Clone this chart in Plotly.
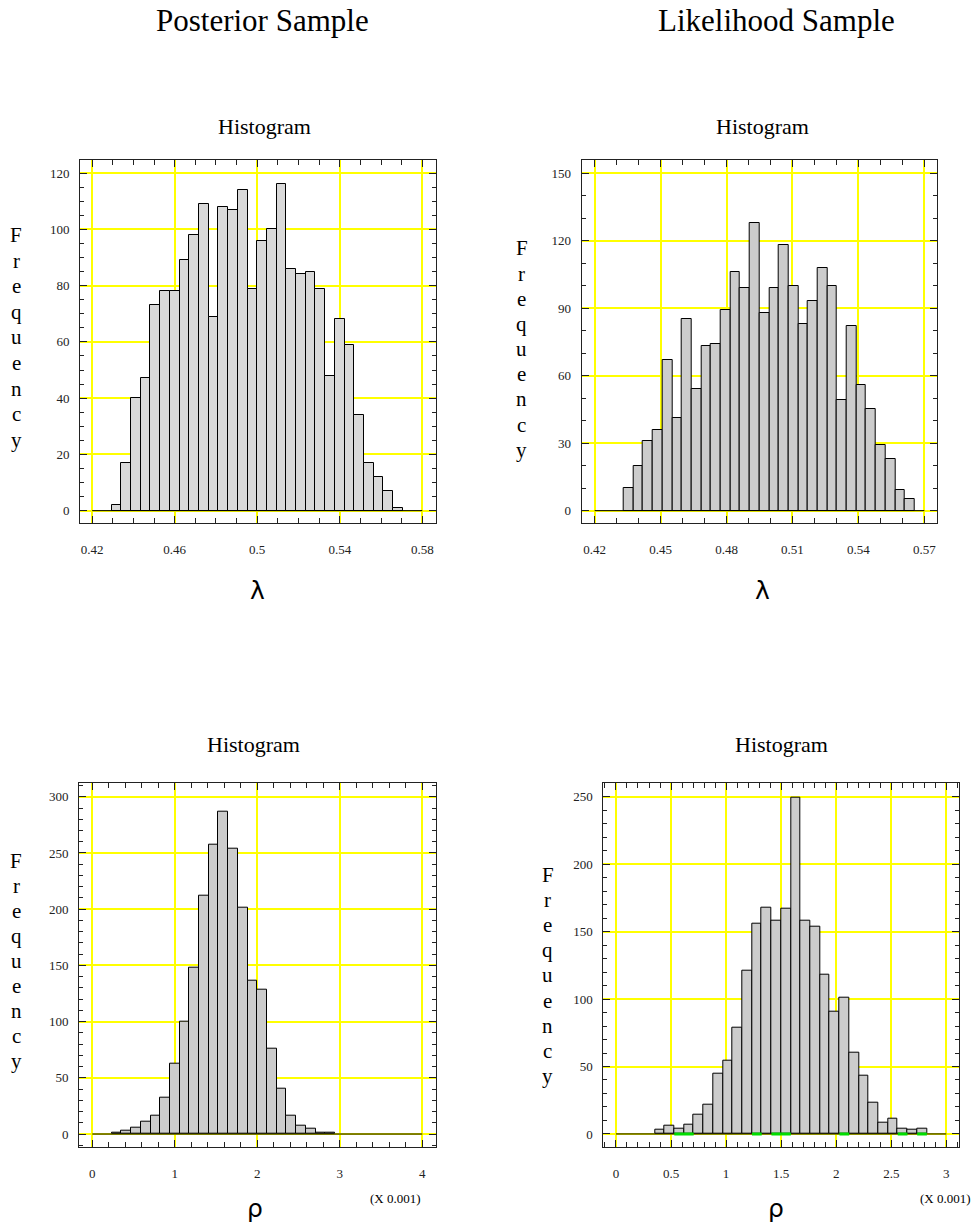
import plotly.graph_objects as go

W, H = 975, 1224

# ---------------- data ----------------
# Posterior sample, lambda (34 bins over [0.42, 0.58], bars start at bin 2)
tl_counts = [2, 17, 40, 47, 73, 78, 78, 89, 98, 109, 69, 108, 107, 114, 79,
             96, 100, 116, 86, 84, 85, 79, 48, 68, 59, 34, 17, 12, 7, 1]
tl_lo, tl_hi, tl_nbins, tl_first = 0.42, 0.58, 34, 2

# Likelihood sample, lambda (34 bins over [0.42, 0.57], bars start at bin 3)
tr_counts = [10, 20, 31, 36, 67, 41, 85, 54, 73, 74, 89, 106, 99, 128, 88,
             99, 118, 100, 83, 93, 108, 100, 49, 82, 56, 45, 29, 23, 9, 5]
tr_lo, tr_hi, tr_nbins, tr_first = 0.42, 0.57, 34, 3

# Posterior sample, rho (x 0.001) (34 bins over [0, 4], bars start at bin 2)
bl_counts = [1, 3, 6, 11, 16, 32, 63, 100, 148, 212, 257, 287, 254, 201, 136,
             128, 76, 40, 16, 7, 5, 1, 1]
bl_lo, bl_hi, bl_nbins, bl_first = 0.0, 4.0, 34, 2

# Likelihood sample, rho (x 0.001) (34 bins over [0, 3], bars start at bin 4)
br_counts = [3, 6, 4, 7, 14, 22, 45, 54, 79, 121, 156, 168, 158, 167, 249,
             158, 154, 118, 91, 101, 60, 43, 23, 8, 11, 4, 3, 4]
br_lo, br_hi, br_nbins, br_first = 0.0, 3.0, 34, 4
br_green_bins = [6, 7, 14, 16, 17, 23, 29, 31]

# tick labels
tl_xticks = [0.42, 0.46, 0.50, 0.54, 0.58]
tl_xlabels = ["0.42", "0.46", "0.5", "0.54", "0.58"]
tl_yticks = [0, 20, 40, 60, 80, 100, 120]
tr_xticks = [0.42, 0.45, 0.48, 0.51, 0.54, 0.57]
tr_xlabels = ["0.42", "0.45", "0.48", "0.51", "0.54", "0.57"]
tr_yticks = [0, 30, 60, 90, 120, 150]
bl_xticks = [0, 1, 2, 3, 4]
bl_xlabels = ["0", "1", "2", "3", "4"]
bl_yticks = [0, 50, 100, 150, 200, 250, 300]
br_xticks = [0, 0.5, 1, 1.5, 2, 2.5, 3]
br_xlabels = ["0", "0.5", "1", "1.5", "2", "2.5", "3"]
br_yticks = [0, 50, 100, 150, 200, 250]

col_titles = ["Posterior Sample", "Likelihood Sample"]
panel_title = "Histogram"
ylabel = "Frequency"
xlabel_top = "λ"
xlabel_bot = "ρ"
scale_note = "(X 0.001)"

SERIF = "Liberation Serif, Times New Roman, serif"
SANS = "DejaVu Sans, Liberation Sans, sans-serif"


def px(x):
    return x / W


def py(y):
    return 1 - y / H


fig = go.Figure()

panels = [
    # counts, lo, hi, nbins, first, fill, axis suffix
    (tl_counts, tl_lo, tl_hi, tl_nbins, tl_first, "#d9d9d9", ""),
    (tr_counts, tr_lo, tr_hi, tr_nbins, tr_first, "#cccccc", "2"),
    (bl_counts, bl_lo, bl_hi, bl_nbins, bl_first, "#cccccc", "3"),
    (br_counts, br_lo, br_hi, br_nbins, br_first, "#cccccc", "4"),
]

for counts, lo, hi, nb, first, fill, s in panels:
    w = (hi - lo) / nb
    xs = [lo + (first + i + 0.5) * w for i in range(len(counts))]
    fig.add_trace(go.Bar(x=xs, y=counts, width=w, marker=dict(color=fill, line=dict(color="black", width=1)),
                         xaxis="x" + s, yaxis="y" + s, hoverinfo="x+y"))
    fig.add_trace(go.Scatter(x=[lo, hi], y=[0, 0], mode="lines", line=dict(color="black", width=1),
                             xaxis="x" + s, yaxis="y" + s, hoverinfo="skip"))

# green segments on the baseline of the lower-right histogram
bw = (br_hi - br_lo) / br_nbins
gx, gy = [], []
for b in br_green_bins:
    gx += [br_lo + b * bw, br_lo + (b + 1) * bw, None]
    gy += [0, 0, None]
fig.add_trace(go.Scatter(x=gx, y=gy, mode="lines", line=dict(color="#00dd00", width=3),
                         xaxis="x4", yaxis="y4", hoverinfo="skip"))

tickfont = dict(family=SERIF, size=13, color="#222")


def xaxis(dom, anchor, rng, tv, tt, minor):
    return dict(domain=dom, anchor=anchor, range=rng, tickmode="array", tickvals=tv, ticktext=tt,
                ticks="inside", ticklen=7, tickcolor="#222", mirror="ticks", showline=True,
                linecolor="#222", linewidth=1, showgrid=True, gridcolor="#ffff00", gridwidth=1.6,
                zeroline=False, tickfont=tickfont, ticklabelstandoff=14,
                minor=dict(dtick=minor, tick0=0, ticks="inside",
                           ticklen=5, tickcolor="#222", showgrid=False))


def yaxis(dom, anchor, rng, tv, minor):
    return dict(domain=dom, anchor=anchor, range=rng, tickmode="array", tickvals=tv,
                ticktext=[str(v) for v in tv],
                ticks="inside", ticklen=7, tickcolor="#222", mirror="ticks", showline=True,
                linecolor="#222", linewidth=1, showgrid=True, gridcolor="#ffff00", gridwidth=1.6,
                zeroline=False, tickfont=tickfont, ticklabelstandoff=7,
                minor=dict(dtick=minor, tick0=0, ticks="inside", ticklen=4, tickcolor="#222",
                           showgrid=False))


top_dom = [py(523), py(160)]
bot_dom = [py(1147.3), py(782.7)]

fig.update_layout(
    width=W, height=H, margin=dict(l=0, r=0, t=0, b=0),
    paper_bgcolor="white", plot_bgcolor="white", showlegend=False, bargap=0,
    xaxis=xaxis([px(80), px(435.7)], "y", [0.4141, 0.5865], tl_xticks, tl_xlabels, 0.01),
    yaxis=yaxis(top_dom, "x", [-4.4, 124.7], tl_yticks, 5),
    xaxis2=xaxis([px(581.7), px(937.3)], "y2", [0.4141, 0.5759], tr_xticks, tr_xlabels, 0.01),
    yaxis2=yaxis(top_dom, "x2", [-5.5, 155.9], tr_yticks, 10),
    xaxis3=xaxis([px(79), px(435.7)], "y3", [-0.161, 4.162], bl_xticks, bl_xlabels, 0.2),
    yaxis3=yaxis(bot_dom, "x3", [-11.8, 312.5], bl_yticks, 10),
    xaxis4=xaxis([px(603.3), px(959)], "y4", [-0.115, 3.115], br_xticks, br_xlabels, 0.1),
    yaxis4=yaxis(bot_dom, "x4", [-9.9, 260.4], br_yticks, 10),
)

ann = []


def add_text(text, x, y, size, family=SERIF, xanchor="center"):
    ann.append(dict(text=text, x=px(x), y=py(y), xref="paper", yref="paper", showarrow=False,
                    xanchor=xanchor, yanchor="middle", font=dict(family=family, size=size, color="black")))


add_text(col_titles[0], 262, 20, 31)
add_text(col_titles[1], 776, 20, 31)
for (x, y) in [(264, 127), (762, 127), (254, 745), (781, 745)]:
    add_text(panel_title, x, y, 22)

for (x, y0, step) in [(16, 235, 25.6), (521.7, 248.3, 25.2), (16, 861, 25.0), (547.7, 875, 25.1)]:
    for i, ch in enumerate(ylabel):
        add_text(ch, x, y0 + i * step, 21)

add_text(xlabel_top, 257, 590, 25, SANS)
add_text(xlabel_top, 762, 590, 25, SANS)
add_text(xlabel_bot, 255, 1208, 25, SANS)
add_text(xlabel_bot, 776, 1208, 25, SANS)
add_text(scale_note, 395, 1198, 13)
add_text(scale_note, 945, 1198, 13)

fig.update_layout(annotations=ann)
fig.write_html("out.html", config={"displayModeBar": False},
               post_script="document.body.style.margin='0px';document.body.style.overflow='hidden';")
